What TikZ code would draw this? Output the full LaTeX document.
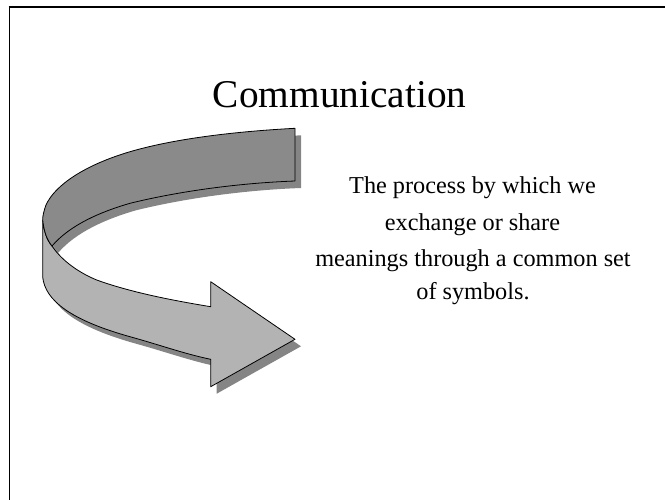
\documentclass[tikz,border=0pt]{standalone}
\usepackage{fontspec}
\setmainfont{Liberation Serif}
\definecolor{banddark}{HTML}{8A8A8A}
\definecolor{bandlight}{HTML}{B3B3B3}
\definecolor{shadowgray}{HTML}{858585}
\begin{document}
\begin{tikzpicture}[x=0.75pt,y=-0.75pt,
  outline/.style={draw=black,line width=0.6pt,line join=round},
  titletext/.style={font=\fontsize{29.5pt}{35pt}\selectfont,anchor=base,inner sep=0pt},
  bodytext/.style={font=\fontsize{18.2pt}{27pt}\selectfont,anchor=base,inner sep=0pt}]
\useasboundingbox (0,0) rectangle (665,500);
% frame
\draw[line width=1.2pt] (9.3,500) -- (9.3,7.2);
\draw[line width=1.7pt] (8.6,7.2) -- (665,7.2);
% arrow outline macro parts
\def\topband{(295,128.3) .. controls (226,132) and (170,140) .. (130,151.7)
   .. controls (85,165) and (55,185) .. (46,205)
   .. controls (43.5,212) and (42.7,216) .. (42.7,220)
   .. controls (44,232) and (47,240) .. (52,246)
   .. controls (70,225) and (100,212) .. (130,203.3)
   .. controls (180,191) and (240,183) .. (295,181) -- cycle}
\def\lowband{(42.7,220) -- (42.7,277)
   .. controls (45,300) and (70,320) .. (130,336.7)
   .. controls (160,345) and (185,354) .. (210.7,359.3)
   -- (210.7,386.7) -- (295,339.3) -- (210.7,281.7) -- (210.7,306.7)
   .. controls (170,300) and (130,292) .. (96.7,280)
   .. controls (75,271) and (60,258) .. (52,246)
   .. controls (47,240) and (44,232) .. (42.7,220) -- cycle}
% shadow
\begin{scope}[shift={(6,7)}]
  \fill[shadowgray] \topband;
  \fill[shadowgray] \lowband;
\end{scope}
% bands
\filldraw[outline,fill=bandlight] \lowband;
\filldraw[outline,fill=banddark] \topband;
% texts
\node[titletext] (title) at (339.7,107.7) {Communication};
\node[bodytext] (l1) at (472.5,193.5) {The process by which we};
\node[bodytext] (l2) at (472.5,230) {exchange or share};
\node[bodytext] (l3) at (473,266) {meanings through a common set};
\node[bodytext] (l4) at (473,299) {of symbols.};
\end{tikzpicture}
\end{document}
